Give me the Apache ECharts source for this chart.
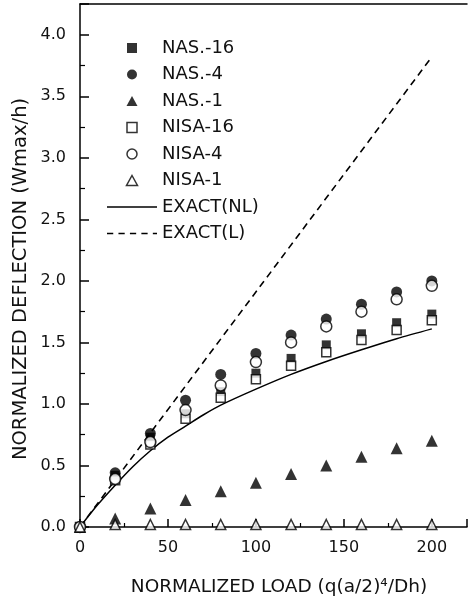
<!DOCTYPE html>
<html>
<head>
<meta charset="utf-8">
<script src="https://cdn.jsdelivr.net/npm/echarts@6/dist/echarts.min.js"></script>
<style>html,body{margin:0;padding:0;background:#fff;}#c{width:471px;height:604px;}</style>
</head>
<body>
<div id="c"></div>
<script>
// ---- data ----
var loads = [0, 20, 40, 60, 80, 100, 120, 140, 160, 180, 200];
var nas16  = [0, 0.42, 0.73, 0.92, 1.10, 1.25, 1.37, 1.48, 1.57, 1.66, 1.73];
var nas4   = [0, 0.44, 0.76, 1.03, 1.24, 1.41, 1.56, 1.69, 1.81, 1.91, 2.00];
var nas1   = [0, 0.07, 0.15, 0.22, 0.29, 0.36, 0.43, 0.50, 0.57, 0.64, 0.70];
var nisa16 = [0, 0.38, 0.67, 0.88, 1.05, 1.20, 1.31, 1.42, 1.52, 1.60, 1.68];
var nisa4  = [0, 0.39, 0.69, 0.95, 1.15, 1.34, 1.50, 1.63, 1.75, 1.85, 1.96];
var nisa1  = [0, 0.02, 0.02, 0.02, 0.02, 0.02, 0.02, 0.02, 0.02, 0.02, 0.02];
var nlLoads = [0, 10, 20, 30, 40, 50, 60, 70, 80, 100, 120, 140, 160, 180, 200];
var nlDefl  = [0, 0.18, 0.34, 0.49, 0.62, 0.73, 0.82, 0.91, 0.99, 1.12, 1.24, 1.345, 1.44, 1.53, 1.61];
var linLoads = [0, 200];
var linDefl  = [0, 3.82];
var seriesNames = ['NAS.-16', 'NAS.-4', 'NAS.-1', 'NISA-16', 'NISA-4', 'NISA-1', 'EXACT(NL)', 'EXACT(L)'];
var xTitle = 'NORMALIZED LOAD (q(a/2)\u2074/Dh)';
var yTitle = 'NORMALIZED DEFLECTION (Wmax/h)';

function pairs(xs, ys) { return xs.map(function (x, i) { return [x, ys[i]]; }); }

var chart = echarts.init(document.getElementById('c'));
var filled = { color: '#000' };
var open = { color: '#fff', borderColor: '#000', borderWidth: 1.5 };
function sc(name, data, symbol, size, style) {
  return { name: name, type: 'scatter', data: data, symbol: symbol, symbolSize: size,
    itemStyle: style, z: 3, silent: true };
}
var tickFont = { fontFamily: 'DejaVu Sans', fontSize: 16, color: '#111' };
var solidIcon = 'path://M0,0h48v1.6h-48z';
var dashIcon = 'path://M0,0h6v1.6h-6zM11,0h6v1.6h-6zM22,0h6v1.6h-6zM33,0h6v1.6h-6zM44,0h4v1.6h-4z';
var squareIcon = 'path://M0,0h9v9h-9z';
var triIcon = 'path://M5.5,0L11,10H0z';
var openLegend = { color: '#fff', borderColor: '#000', borderWidth: 1.5 };

chart.setOption({
  animation: false,
  backgroundColor: '#fff',
  grid: { left: 80, right: 4, top: 4, bottom: 77 },
  legend: {
    orient: 'vertical', left: 102, top: 34,
    itemWidth: 50, itemHeight: 10, itemGap: 8.5,
    symbolKeepAspect: true,
    textStyle: { fontFamily: 'DejaVu Sans', fontSize: 18, color: '#111' },
    data: [
      { name: seriesNames[0], icon: squareIcon, itemStyle: { color: '#000' } },
      { name: seriesNames[1], icon: 'circle', itemStyle: { color: '#000' } },
      { name: seriesNames[2], icon: triIcon, itemStyle: { color: '#000' } },
      { name: seriesNames[3], icon: squareIcon, itemStyle: openLegend },
      { name: seriesNames[4], icon: 'circle', itemStyle: openLegend },
      { name: seriesNames[5], icon: triIcon, itemStyle: openLegend },
      { name: seriesNames[6], icon: solidIcon, itemStyle: { color: '#000', borderWidth: 0 } },
      { name: seriesNames[7], icon: dashIcon, itemStyle: { color: '#000', borderWidth: 0 } }
    ]
  },
  xAxis: [{
    type: 'value', min: 0, max: 220, interval: 50,
    axisLine: { lineStyle: { color: '#000', width: 1.5 } },
    axisTick: { inside: true, length: 8, lineStyle: { color: '#000', width: 1.5 } },
    minorTick: { show: true, splitNumber: 2, length: 4, lineStyle: { color: '#000', width: 1.2 } },
    axisLabel: Object.assign({ margin: 13, showMaxLabel: false }, tickFont),
    splitLine: { show: false }
  }, {
    type: 'value', position: 'top', min: 0, max: 220,
    axisLine: { show: true, lineStyle: { color: '#000', width: 1.5 } },
    axisTick: { show: false }, axisLabel: { show: false }, splitLine: { show: false }
  }],
  yAxis: {
    type: 'value', min: 0, max: 4.25, interval: 0.5,
    axisLine: { show: true, lineStyle: { color: '#000', width: 1.5 } },
    axisTick: { inside: true, length: 9, lineStyle: { color: '#000', width: 1.5 } },
    minorTick: { show: true, splitNumber: 2, length: 5, lineStyle: { color: '#000', width: 1.2 } },
    axisLabel: Object.assign({ margin: 14, showMaxLabel: false,
      formatter: function (v) { return v.toFixed(1); } }, tickFont),
    splitLine: { show: false }
  },
  graphic: [
    { type: 'text', x: 279, y: 587, style: { text: xTitle, font: '18.5px "DejaVu Sans"', fill: '#111', textAlign: 'center', textVerticalAlign: 'middle' } },
    { type: 'text', x: 21, y: 279, rotation: Math.PI / 2, style: { text: yTitle, font: '19.5px "DejaVu Sans"', fill: '#111', textAlign: 'center', textVerticalAlign: 'middle' } }
  ],
  series: [
    sc(seriesNames[0], pairs(loads, nas16), 'rect', 9, filled),
    sc(seriesNames[1], pairs(loads, nas4), 'circle', 11, filled),
    sc(seriesNames[2], pairs(loads, nas1), 'triangle', 12, filled),
    sc(seriesNames[3], pairs(loads, nisa16), 'rect', 9, open),
    sc(seriesNames[4], pairs(loads, nisa4), 'circle', 11, open),
    sc(seriesNames[5], pairs(loads, nisa1), 'triangle', 10, open),
    { name: seriesNames[6], type: 'line', data: pairs(nlLoads, nlDefl), smooth: 0.3, symbol: 'none',
      lineStyle: { color: '#000', width: 1.5 }, itemStyle: { color: '#000' }, z: 2, silent: true },
    { name: seriesNames[7], type: 'line', data: pairs(linLoads, linDefl), symbol: 'none',
      lineStyle: { color: '#000', width: 1.6, type: [7, 5] }, itemStyle: { color: '#000' }, z: 2, silent: true }
  ]
});
</script>
</body>
</html>
